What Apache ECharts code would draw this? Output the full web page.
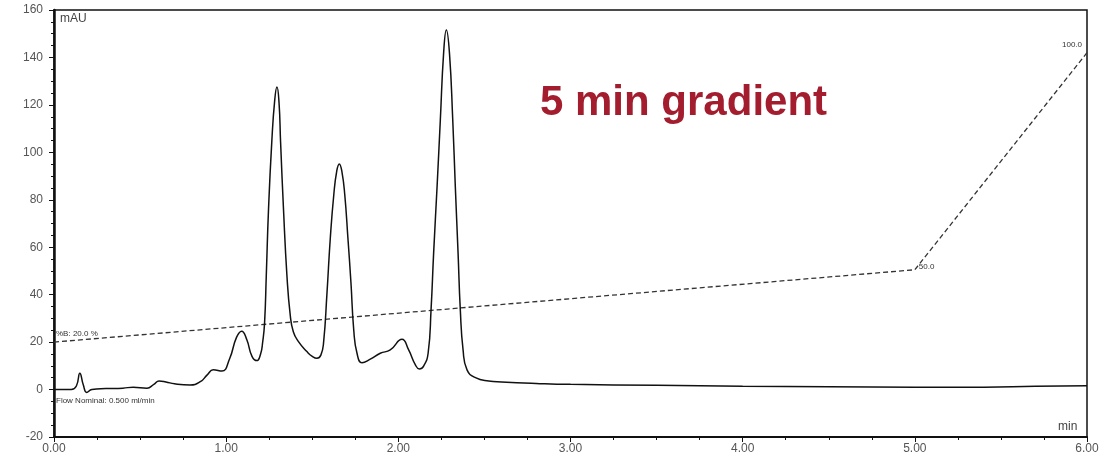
<!DOCTYPE html>
<html>
<head>
<meta charset="utf-8">
<style>
  html, body { margin: 0; padding: 0; background: #fff; }
  #chart { width: 1114px; height: 460px; }
</style>
<script src="https://cdn.jsdelivr.net/npm/echarts@6/dist/echarts.min.js"></script>
</head>
<body>
<div id="chart"></div>
<script>
// chromatogram (min, mAU)
var times = [0.00, 0.10, 0.13, 0.15, 0.17, 0.19, 0.22, 0.30, 0.40, 0.46, 0.54, 0.58, 0.61, 0.65, 0.70,
  0.79, 0.85, 0.89, 0.925, 0.975, 1.02, 1.06, 1.09, 1.12, 1.15, 1.178, 1.20, 1.212, 1.223, 1.233,
  1.246, 1.265, 1.282, 1.295, 1.307, 1.316, 1.333, 1.353, 1.372, 1.39, 1.42, 1.469, 1.50, 1.527, 1.55,
  1.566, 1.585, 1.605, 1.625, 1.642, 1.657, 1.672, 1.689, 1.707, 1.725, 1.741, 1.76, 1.789, 1.837, 1.895,
  1.953, 2.021, 2.06, 2.099, 2.122, 2.147, 2.173, 2.19, 2.205, 2.225, 2.244, 2.263, 2.279, 2.297, 2.316,
  2.331, 2.347, 2.36, 2.376, 2.399, 2.448, 2.525, 2.60, 2.80, 3.00, 3.50, 4.00, 4.50, 5.00, 5.40,
  5.70, 6.00];
var mAU = [0.0, 0.0, 1.5, 6.9, 2.0, -1.2, 0.0, 0.4, 0.6, 1.0, 0.6, 2.2, 3.6, 3.2, 2.4,
  1.9, 3.3, 6.2, 8.3, 7.8, 13.0, 22.0, 24.6, 21.0, 14.0, 12.2, 15.0, 20.0, 28.0, 48.0,
  76.0, 104.5, 122.0, 127.5, 121.0, 104.5, 76.0, 48.0, 31.5, 24.4, 20.2, 16.0, 14.0, 13.2, 14.5,
  20.0, 40.0, 64.0, 82.0, 92.0, 95.1, 92.0, 82.0, 64.0, 44.8, 25.1, 15.3, 11.3, 12.8, 15.3,
  16.7, 21.2, 16.7, 10.4, 8.7, 9.9, 15.3, 33.6, 57.5, 85.5, 113.7, 141.8, 151.6, 141.8, 113.7,
  85.5, 57.5, 33.6, 16.7, 8.3, 5.0, 3.6, 3.2, 2.6, 2.2, 1.8, 1.4, 1.2, 1.0, 1.0,
  1.4, 1.6];

// gradient trace (%B) as drawn on the mAU scale
var gradTimes = [0.0, 5.0, 6.0];
var gradValues = [20.0, 50.5, 142.0];
var gradLabels = ['%B: 20.0 %', '50.0', '100.0'];

var chart = echarts.init(document.getElementById('chart'));

var axisFont = 'Liberation Sans, Arial, sans-serif';

var trace = times.map(function (t, i) { return [t, mAU[i]]; });
var grad = gradTimes.map(function (t, i) {
  return {
    value: [t, gradValues[i]],
    label: {
      show: true,
      formatter: gradLabels[i],
      position: i === 0 ? [2, -12] : (i === 1 ? [4, -7] : [-25, -12]),
      fontSize: 8,
      color: '#333',
      fontFamily: axisFont
    }
  };
});

chart.setOption({
  animation: false,
  grid: {
    left: 54,
    right: 27,
    top: 10,
    bottom: 23,
    show: true,
    borderColor: '#111',
    borderWidth: 1.5
  },
  xAxis: {
    type: 'value',
    min: 0,
    max: 6,
    interval: 1,
    axisLine: { onZero: false, lineStyle: { color: '#111', width: 2 } },
    axisTick: { show: true, length: 5, lineStyle: { color: '#111' } },
    minorTick: { show: true, splitNumber: 4, length: 3, lineStyle: { color: '#111' } },
    splitLine: { show: false },
    axisLabel: {
      color: '#555',
      fontSize: 12,
      fontFamily: axisFont,
      margin: 6,
      formatter: function (v) { return v.toFixed(2); }
    }
  },
  yAxis: {
    type: 'value',
    min: -20,
    max: 160,
    interval: 20,
    axisLine: { show: true, onZero: false, lineStyle: { color: '#111', width: 2.5 } },
    axisTick: { show: true, length: 5, lineStyle: { color: '#111' } },
    minorTick: { show: true, splitNumber: 4, length: 3, lineStyle: { color: '#111' } },
    splitLine: { show: false },
    axisLabel: { color: '#555', fontSize: 12, fontFamily: axisFont, margin: 11 }
  },
  graphic: [
    { type: 'text', left: 60, top: 13, style: { text: 'mAU', fontSize: 12, fill: '#444', fontFamily: axisFont } },
    { type: 'text', left: 1058, top: 421, style: { text: 'min', fontSize: 12, fill: '#444', fontFamily: axisFont } },
    { type: 'text', left: 56, top: 397, style: { text: 'Flow Nominal: 0.500 ml/min', fontSize: 8, fill: '#333', fontFamily: axisFont } },
    { type: 'text', left: 540, top: 82, style: { text: '5 min gradient', fontSize: 42, fontWeight: 'bold', fill: '#a31d2f', fontFamily: axisFont } }
  ],
  series: [
    {
      name: 'gradient',
      type: 'line',
      data: grad,
      symbol: 'circle',
      symbolSize: 0,
      showSymbol: true,
      lineStyle: { color: '#333', width: 1.3, type: [5, 3] },
      z: 1
    },
    {
      name: 'UV',
      type: 'line',
      data: trace,
      symbol: 'none',
      smooth: 0.5,
      lineStyle: { color: '#111', width: 1.5 },
      z: 2
    }
  ]
});
</script>
</body>
</html>
